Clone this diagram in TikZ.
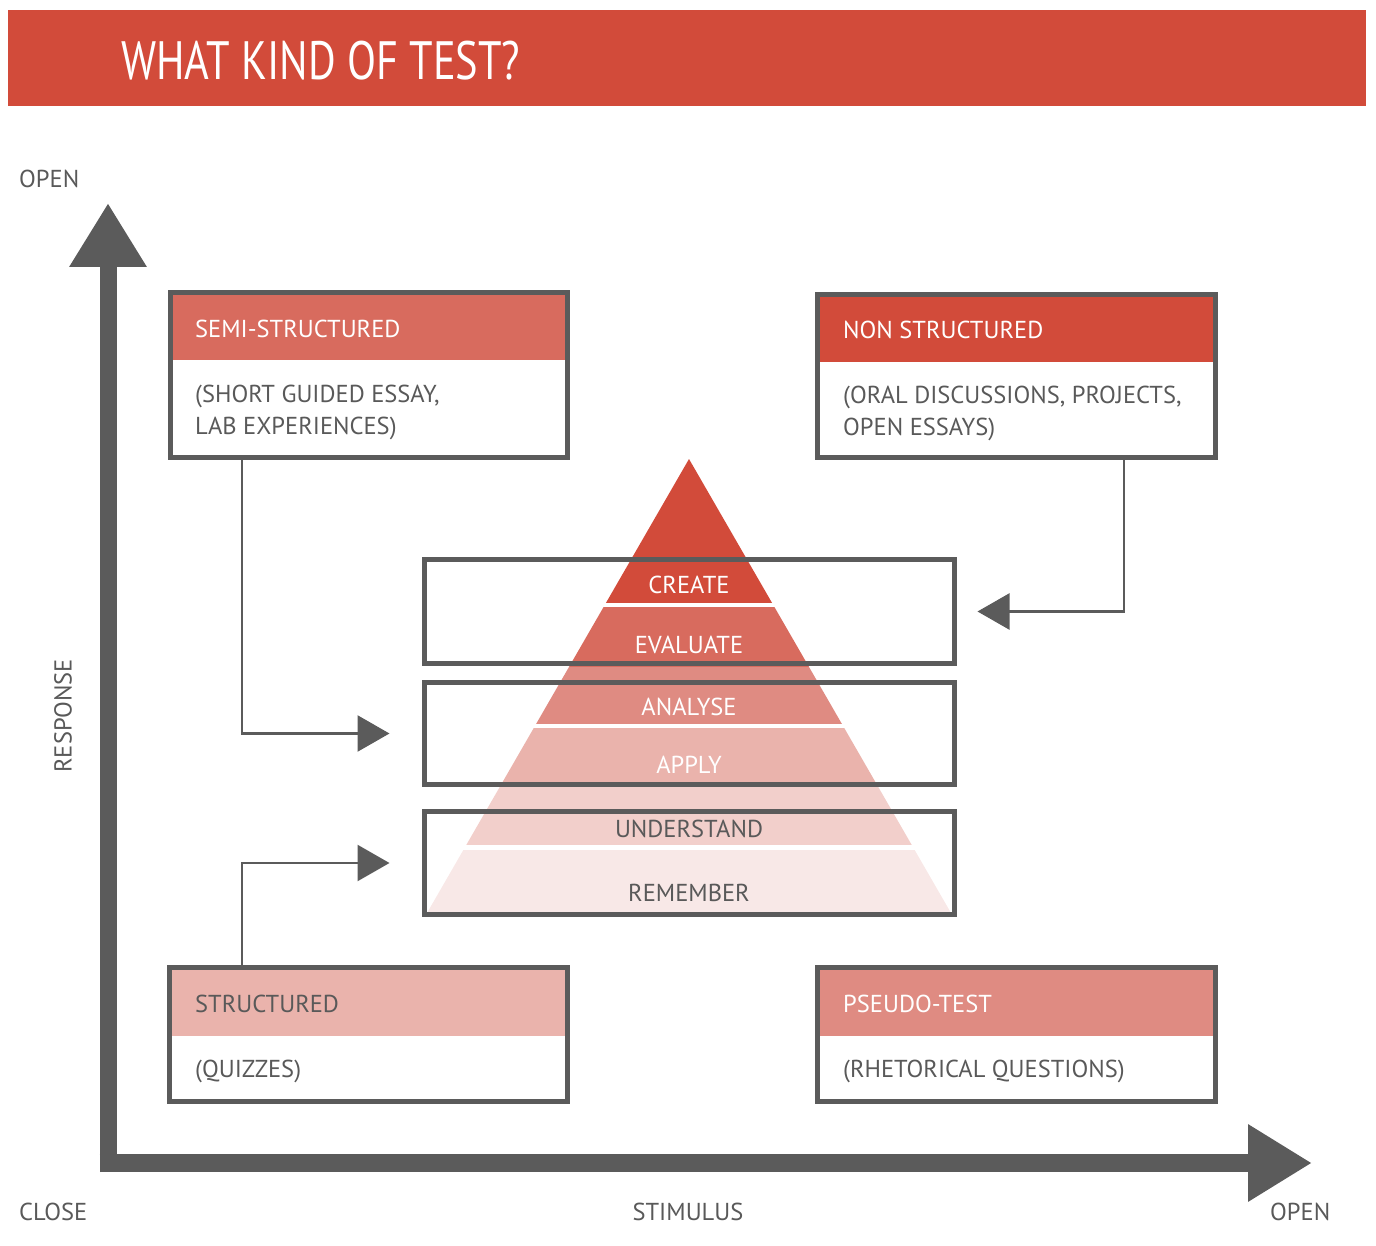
\documentclass[tikz,border=0pt]{standalone}
\usepackage{fontspec}
\setmainfont{PT Sans}
\usetikzlibrary{arrows.meta,calc}
\definecolor{cA}{HTML}{D24B3A}
\definecolor{cB}{HTML}{D86B5E}
\definecolor{cC}{HTML}{DF8B82}
\definecolor{cD}{HTML}{EAB3AC}
\definecolor{cE}{HTML}{F2CFCB}
\definecolor{cF}{HTML}{F8E8E7}
\definecolor{dgray}{HTML}{5B5B5B}
\definecolor{tgray}{HTML}{595959}
\tikzset{
  lbl/.style={font=\fontsize{24.5}{28}\selectfont, text=tgray, inner sep=0pt},
  hdr/.style={font=\fontsize{24.5}{28}\selectfont, inner sep=0pt, anchor=base west},
  body/.style={lbl, anchor=base west},
  pyr/.style={font=\fontsize{24.5}{28}\selectfont, inner sep=0pt, anchor=base},
  catbox/.style={draw=dgray, line width=5pt, inner sep=0pt},
  levelbox/.style={draw=dgray, line width=5pt, inner sep=0pt},
  conn/.style={draw=dgray, line width=2.5pt, -{Triangle[length=32pt,width=36pt]}},
  axis/.style={draw=dgray, -{Triangle[length=64pt,width=73pt]}},
}
\begin{document}
\begin{tikzpicture}[x=1pt,y=-1pt]
\useasboundingbox (0,0) rectangle (1376,1246);
% title bar
\fill[cA] (8,10) rectangle (1366,106);
\node[font=\fontsize{54}{60}\selectfont, text=white, inner sep=0pt, anchor=base west] (title) at (121,80) {\scalebox{0.785}[1]{WHAT KIND OF TEST?}};

% pyramid
\begin{scope}
\clip (689,459) -- (427,913) -- (951,913) -- cycle;
\fill[cA] (400,450) rectangle (980,603);
\fill[cB] (400,607) rectangle (980,667);
\fill[cC] (400,667) rectangle (980,724);
\fill[cD] (400,728) rectangle (980,786);
\fill[cE] (400,786) rectangle (980,845);
\fill[cF] (400,850) rectangle (980,913);
\end{scope}

% level boxes
\node[levelbox, minimum width=530pt, minimum height=104pt] (lA) at (689.5,611.5) {};
\node[levelbox, minimum width=530pt, minimum height=102pt] (lB) at (689.5,733.5) {};
\node[levelbox, minimum width=530pt, minimum height=103pt] (lC) at (689.5,863) {};

\node[pyr, text=white] (create) at (689,593.5) {CREATE};
\node[pyr, text=white] (evaluate) at (689,653.5) {EVALUATE};
\node[pyr, text=white] (analyse) at (689,715.5) {ANALYSE};
\node[pyr, text=white] (apply) at (689,773.5) {APPLY};
\node[pyr, text=tgray] (understand) at (689,837.5) {UNDERSTAND};
\node[pyr, text=tgray] (remember) at (689,901.5) {REMEMBER};

% category boxes: headers
\fill[cB] (170,293) rectangle (567,360);
\fill[cA] (817.5,294.5) rectangle (1215.5,362);
\fill[cD] (169.5,967.5) rectangle (567.5,1036);
\fill[cC] (817.5,967.5) rectangle (1215.5,1036);

\node[catbox, minimum width=397pt, minimum height=164pt] (semi) at (368.5,375) {};
\node[catbox, minimum width=398pt, minimum height=163pt] (non) at (1016.5,376) {};
\node[catbox, minimum width=398pt, minimum height=134pt] (struct) at (368.5,1034.5) {};
\node[catbox, minimum width=398pt, minimum height=134pt] (pseudo) at (1016.5,1034.5) {};

\node[hdr, text=white] (semiH) at (195,337.5) {SEMI-STRUCTURED};
\node[body] (semiB1) at (195,402.5) {(SHORT GUIDED ESSAY,};
\node[body] (semiB2) at (195,434.5) {LAB EXPERIENCES)};
\node[hdr, text=white] (nonH) at (843,338.5) {NON STRUCTURED};
\node[body] (nonB1) at (843,403.5) {(ORAL DISCUSSIONS, PROJECTS,};
\node[body] (nonB2) at (843,435.5) {OPEN ESSAYS)};
\node[hdr, text=tgray] (structH) at (195,1012.5) {STRUCTURED};
\node[body] (structB) at (195,1077.5) {(QUIZZES)};
\node[hdr, text=white] (pseudoH) at (843,1012.5) {PSEUDO-TEST};
\node[body] (pseudoB) at (843,1077.5) {(RHETORICAL QUESTIONS)};

% connectors
\coordinate (stemL) at (242,0);
\coordinate (stemR) at (1124,0);
\coordinate (tB) at ([xshift=-32.5pt]lB.west);
\coordinate (tC) at ([xshift=-32.5pt]lC.west);
\coordinate (tA) at ([xshift=20.5pt]lA.east);
\draw[conn] (semi.south -| stemL) |- (tB);
\draw[conn] (struct.north -| stemL) |- (tC);
\draw[conn] (non.south -| stemR) |- (tA);

% axes
\coordinate (yend) at (108,203);
\coordinate (xend) at (1312,1163);
\draw[axis, line width=17pt] (108,1172) -- (yend);
\draw[axis, line width=18pt] (99.5,1163) -- (xend);

\node[lbl, anchor=base west] (openY) at (19,187.5) {OPEN};
\node[lbl, anchor=base west] (close) at (19,1220.5) {CLOSE};
\node[lbl, anchor=base] (stim) at (688,1220.5) {STIMULUS};
\node[lbl, anchor=base west] (openX) at (1270,1220.5) {OPEN};
\node[lbl, rotate=90] (resp) at (63,716) {RESPONSE};
\end{tikzpicture}
\end{document}
